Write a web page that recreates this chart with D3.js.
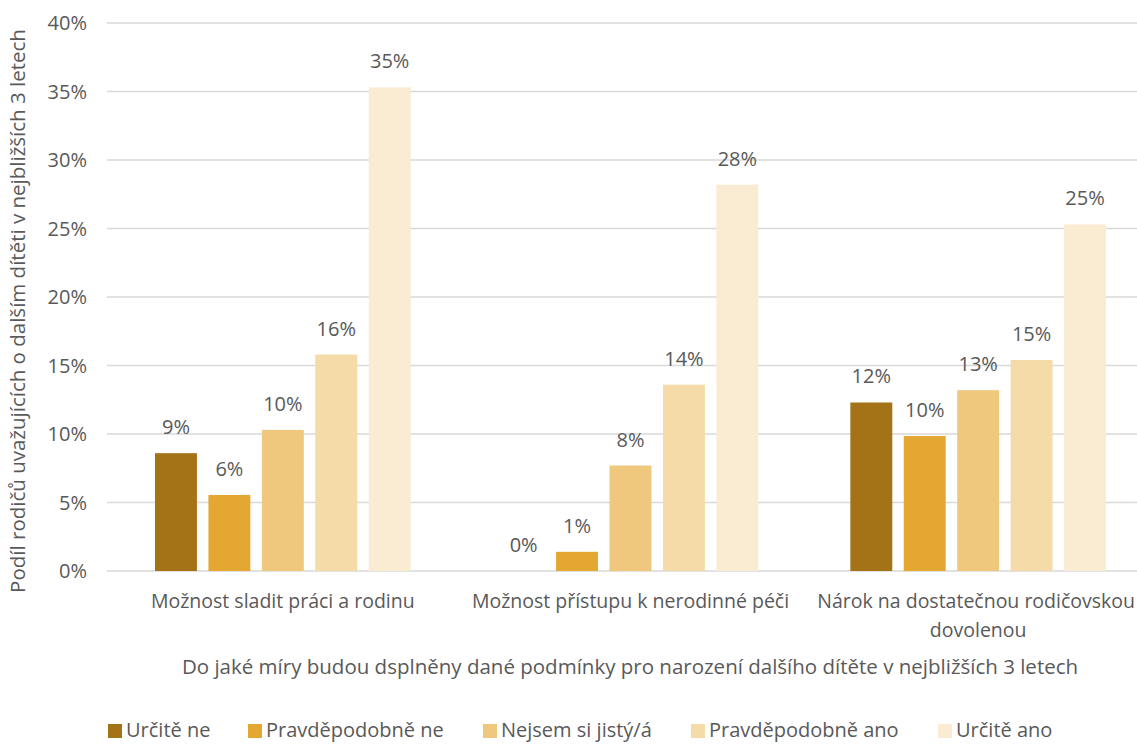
<!DOCTYPE html>
<html>
<head>
<meta charset="utf-8">
<script src="https://cdn.jsdelivr.net/npm/d3@7"></script>
<style>
  html, body { margin: 0; padding: 0; background: #fff; overflow: hidden; }
  text { font-family: "Open Sans", Lato, sans-serif; fill: #595959; }
</style>
</head>
<body>
<div id="chart"></div>
<script>
// categories on x axis (third one wraps onto two lines)
const categories = [
    ['Možnost sladit práci a rodinu'],
    ['Možnost přístupu k nerodinné péči'],
    ['Nárok na dostatečnou rodičovskou', 'dovolenou']
];
const seriesNames = ['Určitě ne', 'Pravděpodobně ne', 'Nejsem si jistý/á', 'Pravděpodobně ano', 'Určitě ano'];
const seriesColors = ['#a57317', '#e4a731', '#efc87e', '#f5dba7', '#faebd3'];

// values per category (in %), ordered like seriesNames
const valuesSladit = [8.6, 5.55, 10.3, 15.8, 35.3];
const valuesPece = [0, 1.4, 7.7, 13.6, 28.2];
const valuesDovolena = [12.3, 9.85, 13.2, 15.4, 25.3];
const allValues = [valuesSladit, valuesPece, valuesDovolena];

const yTicks = [0, 5, 10, 15, 20, 25, 30, 35, 40];
const yTitle = 'Podíl rodičů uvažujících o dalším dítěti v nejbližších 3 letech';
const xTitle = 'Do jaké míry budou dsplněny dané podmínky pro narození dalšího dítěte v nejbližších 3 letech';

const W = 1137, H = 744;

const svg = d3.select('#chart')
    .append('svg')
    .attr('width', W)
    .attr('height', H);

// plot area runs past the right edge, like in the original export
const x0 = d3.scaleBand()
    .domain(d3.range(categories.length))
    .range([109, 1152]);

const x1 = d3.scaleBand()
    .domain(d3.range(seriesNames.length))
    .range([46, x0.bandwidth() - 46])
    .paddingInner(0.215);

const y = d3.scaleLinear()
    .domain([0, 40])
    .range([571, 23]);

// gridlines
svg.append('g')
    .selectAll('line')
    .data(yTicks)
    .enter()
    .append('line')
    .attr('x1', 107)
    .attr('x2', W)
    .attr('y1', d => y(d))
    .attr('y2', d => y(d))
    .attr('stroke', '#d9d9d9')
    .attr('stroke-width', 1.3);

// y tick labels
svg.append('g')
    .selectAll('text')
    .data(yTicks)
    .enter()
    .append('text')
    .attr('x', 87)
    .attr('y', d => y(d))
    .attr('dy', '0.35em')
    .attr('text-anchor', 'end')
    .style('font-size', '20px')
    .text(d => d + '%');

// bars
const groups = svg.selectAll('.group')
    .data(allValues)
    .enter()
    .append('g')
    .attr('class', 'group')
    .attr('transform', (d, i) => `translate(${x0(i)},0)`);

groups.selectAll('rect')
    .data(d => d)
    .enter()
    .append('rect')
    .attr('x', (d, i) => x1(i))
    .attr('width', x1.bandwidth())
    .attr('y', d => y(d))
    .attr('height', d => y(0) - y(d))
    .attr('fill', (d, i) => seriesColors[i]);

groups.selectAll('.val')
    .data(d => d)
    .enter()
    .append('text')
    .attr('class', 'val')
    .attr('x', (d, i) => x1(i) + x1.bandwidth() / 2)
    .attr('y', d => y(d) - 19)
    .attr('text-anchor', 'middle')
    .style('font-size', '20px')
    .text(d => Math.round(d) + '%');

// category labels (nudged left if they would run off the right edge)
categories.forEach((lines, i) => {
    const cx = x0(i) + x0.bandwidth() / 2;
    lines.forEach((line, j) => {
        const t = svg.append('text')
            .attr('x', cx)
            .attr('y', 608 + j * 29)
            .attr('text-anchor', 'middle')
            .style('font-size', '19.5px')
            .text(line);
        const half = t.node().getComputedTextLength() / 2;
        if (cx + half > W - 2) t.attr('x', W - 2 - half);
    });
});

// axis titles
svg.append('text')
    .attr('x', 630)
    .attr('y', 674)
    .attr('text-anchor', 'middle')
    .style('font-size', '20.5px')
    .text(xTitle);

svg.append('text')
    .attr('transform', 'translate(25,311) rotate(-90)')
    .attr('text-anchor', 'middle')
    .style('font-size', '20.5px')
    .text(yTitle);

// legend (kept just inside the bottom edge)
const legendX = [108, 248, 483, 691, 938];
const legend = svg.selectAll('.legend')
    .data(seriesNames)
    .enter()
    .append('g')
    .attr('class', 'legend')
    .attr('transform', (d, i) => `translate(${legendX[i]},730)`);

legend.append('rect')
    .attr('x', 0)
    .attr('y', -6)
    .attr('width', 14)
    .attr('height', 14)
    .attr('fill', (d, i) => seriesColors[i]);

legend.append('text')
    .attr('x', 18)
    .attr('y', 0)
    .attr('dy', '0.35em')
    .style('font-size', '20px')
    .text(d => d);
</script>
</body>
</html>
